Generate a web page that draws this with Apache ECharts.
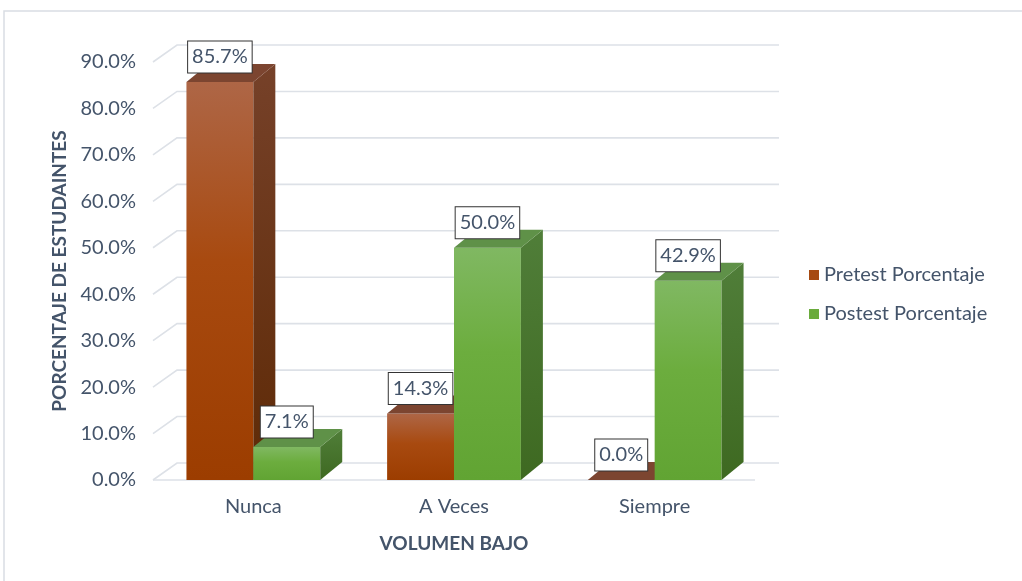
<!DOCTYPE html>
<html>
<head>
<meta charset="utf-8">
<script src="https://cdn.jsdelivr.net/npm/echarts@6/dist/echarts.min.js"></script>
<style>
  html, body { margin: 0; padding: 0; background: #fff; }
  #chart { width: 1022px; height: 581px; }
</style>
</head>
<body>
<div id="chart"></div>
<script>
const categories = ['Nunca', 'A Veces', 'Siempre'];
const pretest = [85.7, 14.3, 0.0];
const postest = [7.1, 50.0, 42.9];
const yTicks = [0, 10, 20, 30, 40, 50, 60, 70, 80, 90];

const FONT = 'Lato, "Open Sans", sans-serif';
const TEXT = '#44546a';
const GRID = '#dde1e7';

// 3D look: offset of the back edges
const bdx = 22, bdy = -18;   // bars
const gdx = 24, gdy = -17;   // back wall

const faces = {
  pre: {
    front: ['#ae6646', '#a84a10', '#9c3d00'],
    side: ['#764129', '#5e2a06'],
    top: '#7c4530'
  },
  post: {
    front: ['#80b862', '#6cad3e', '#61a433'],
    side: ['#507e39', '#3e6921'],
    top: '#5f9148'
  }
};

function grad(c, three) {
  const stops = three
    ? [{ offset: 0, color: c[0] }, { offset: 0.45, color: c[1] }, { offset: 1, color: c[2] }]
    : [{ offset: 0, color: c[0] }, { offset: 1, color: c[1] }];
  return { type: 'linear', x: 0, y: 0, x2: 0, y2: 1, colorStops: stops };
}

function barRenderer(which) {
  const f = faces[which];
  return function (params, api) {
    const idx = api.value(0);
    const val = api.value(1);
    const top = api.coord([idx, val]);
    const base = api.coord([idx, 0]);
    const w = api.size([1, 0])[0] / 3;
    const x0 = which === 'pre' ? top[0] - w : top[0];
    const x1 = x0 + w;
    const yt = top[1], yb = base[1];
    const children = [];
    if (yb - yt > 0.5) {
      children.push({
        type: 'rect',
        shape: { x: x0, y: yt, width: w, height: yb - yt },
        style: { fill: grad(f.front, true) }
      });
      children.push({
        type: 'polygon',
        shape: { points: [[x1, yt], [x1 + bdx, yt + bdy], [x1 + bdx, yb + bdy], [x1, yb]] },
        style: { fill: grad(f.side, false) }
      });
    }
    children.push({
      type: 'polygon',
      shape: { points: [[x0, yt], [x1, yt], [x1 + bdx, yt + bdy], [x0 + bdx, yt + bdy]] },
      style: { fill: f.top }
    });
    children.push({
      type: 'text',
      z2: 10,
      style: {
        text: val.toFixed(1) + '%',
        x: (x0 + x1) / 2,
        y: yt - 25,
        align: 'center',
        verticalAlign: 'middle',
        fill: TEXT,
        font: '20px ' + FONT,
        backgroundColor: '#fff',
        borderColor: '#333',
        borderWidth: 1,
        padding: [6, 4, 5, 4]
      }
    });
    return { type: 'group', children: children };
  };
}

const chart = echarts.init(document.getElementById('chart'));
chart.setOption({
  animation: false,
  graphic: [{
    type: 'rect',
    shape: { x: 4, y: 11, width: 1040, height: 600 },
    style: { fill: 'none', stroke: '#d9dde3', lineWidth: 1.5 }
  }],
  grid: { left: 153, right: 267, top: 62, bottom: 101 },
  legend: {
    orient: 'vertical',
    left: 804,
    top: 260,
    icon: 'rect',
    itemWidth: 10,
    itemHeight: 10,
    itemGap: 19,
    textStyle: { color: TEXT, fontSize: 20, fontFamily: FONT },
    data: ['Pretest Porcentaje', 'Postest Porcentaje']
  },
  xAxis: {
    type: 'category',
    data: categories,
    axisLine: { show: false },
    axisTick: { show: false },
    axisLabel: { color: TEXT, fontSize: 20, fontFamily: FONT, margin: 17 },
    name: 'VOLUMEN BAJO',
    nameLocation: 'middle',
    nameGap: 54,
    nameTextStyle: { color: TEXT, fontSize: 19, fontWeight: 'bold', fontFamily: FONT }
  },
  yAxis: {
    type: 'value',
    min: 0,
    max: 90,
    interval: 10,
    axisLine: { show: false },
    axisTick: { show: false },
    splitLine: { show: false },
    axisLabel: {
      color: TEXT, fontSize: 20, fontFamily: FONT, margin: 17,
      formatter: v => v.toFixed(1) + '%'
    },
    name: 'PORCENTAJE DE ESTUDAINTES',
    nameLocation: 'middle',
    nameGap: 84,
    nameTextStyle: { color: TEXT, fontSize: 19, fontWeight: 'bold', fontFamily: FONT }
  },
  series: [
    {
      name: 'grid',
      type: 'custom',
      silent: true,
      data: yTicks.map(v => [0, v]),
      renderItem: function (params, api) {
        const cs = params.coordSys;
        const y = api.coord([0, api.value(1)])[1];
        const children = [{
          type: 'polyline',
          shape: { points: [[cs.x, y], [cs.x + gdx, y + gdy], [cs.x + cs.width + gdx, y + gdy]] },
          style: { stroke: GRID, lineWidth: 1.6, fill: 'none' }
        }];
        if (api.value(1) === 0) {
          children.push({
            type: 'line',
            shape: { x1: cs.x, y1: y, x2: cs.x + cs.width, y2: y },
            style: { stroke: GRID, lineWidth: 1.6 }
          });
        }
        return { type: 'group', children: children };
      }
    },
    {
      name: 'Pretest Porcentaje',
      type: 'custom',
      itemStyle: { color: '#a64a12' },
      data: pretest.map((v, i) => [i, v]),
      renderItem: barRenderer('pre')
    },
    {
      name: 'Postest Porcentaje',
      type: 'custom',
      itemStyle: { color: '#6aab3c' },
      data: postest.map((v, i) => [i, v]),
      renderItem: barRenderer('post')
    }
  ]
});
</script>
</body>
</html>
